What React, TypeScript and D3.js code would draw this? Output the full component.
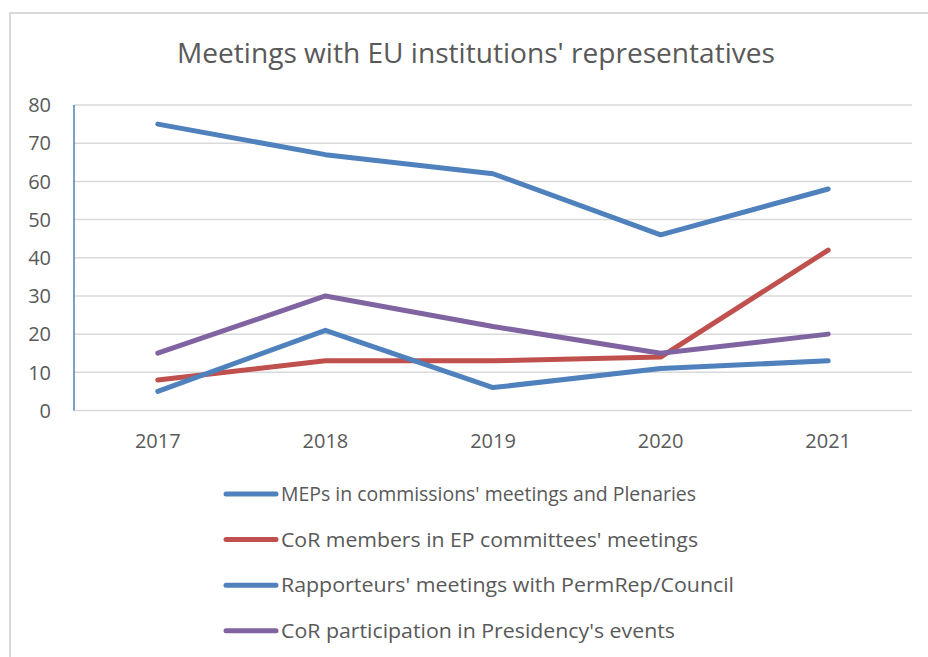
import React from "react";
import * as d3 from "d3";

const years = ["2017", "2018", "2019", "2020", "2021"];
const mepsValues = [75, 67, 62, 46, 58];
const corEpValues = [8, 13, 13, 14, 42];
const rapporteursValues = [5, 21, 6, 11, 13];
const presidencyValues = [15, 30, 22, 15, 20];
const seriesNames = [
  "MEPs in commissions' meetings and Plenaries",
  "CoR members in EP committees' meetings",
  "Rapporteurs' meetings with PermRep/Council",
  "CoR participation in Presidency's events",
];
const seriesColors = ["#4F81BD", "#C0504D", "#4F81BD", "#8064A2"];
const yTicks = [0, 10, 20, 30, 40, 50, 60, 70, 80];
const title = "Meetings with EU institutions' representatives";

const W = 928;
const H = 657;
const plotLeft = 74;
const plotRight = 912;
const plotTop = 105;
const plotBottom = 410.5;
const font = "'Open Sans', 'Noto Sans', sans-serif";
const textColor = "#595959";

export default function App() {
  const x = d3.scaleBand<string>().domain(years).range([plotLeft, plotRight]);
  const y = d3.scaleLinear().domain([0, 80]).range([plotBottom, plotTop]);
  const allSeries = [mepsValues, corEpValues, rapporteursValues, presidencyValues];
  const line = d3
    .line<number>()
    .x((_, i) => (x(years[i]) as number) + x.bandwidth() / 2)
    .y((d) => y(d));

  const legendX0 = 226;
  const legendX1 = 276;
  const legendY0 = 494;
  const legendStep = 45.6;
  const legendWidths = [415, 417, 453, 394];

  return (
    <svg
      width={W}
      height={H}
      style={{ position: "absolute", left: 0, top: 0, background: "#fff" }}
    >
      <rect x={0} y={0} width={W} height={H} fill="#fff" />
      <rect
        x={10}
        y={13}
        width={W + 20}
        height={H + 20}
        fill="#fff"
        stroke="#d9d9d9"
        strokeWidth={2}
      />
      <text
        x={476}
        y={63}
        textAnchor="middle"
        fontFamily={font}
        fontSize={28}
        fill={textColor}
        textLength={598}
        lengthAdjust="spacingAndGlyphs"
      >
        {title}
      </text>
      {yTicks.map((t) => (
        <g key={t}>
          <line
            x1={plotLeft}
            x2={plotRight}
            y1={y(t)}
            y2={y(t)}
            stroke="#d9d9d9"
            strokeWidth={1.5}
          />
          <text
            x={51}
            y={y(t)}
            dy="0.36em"
            textAnchor="end"
            fontFamily={font}
            fontSize={20}
            fill={textColor}
          >
            {t}
          </text>
        </g>
      ))}
      <line
        x1={plotLeft}
        x2={plotLeft}
        y1={plotTop}
        y2={plotBottom}
        stroke="#4F81BD"
        strokeWidth={1.5}
      />
      {years.map((yr) => (
        <text
          key={yr}
          x={(x(yr) as number) + x.bandwidth() / 2}
          y={448}
          textAnchor="middle"
          fontFamily={font}
          fontSize={20}
          fill={textColor}
        >
          {yr}
        </text>
      ))}
      {allSeries.map((vals, i) => (
        <path
          key={i}
          d={line(vals) || ""}
          fill="none"
          stroke={seriesColors[i]}
          strokeWidth={5}
          strokeLinecap="round"
          strokeLinejoin="round"
        />
      ))}
      {seriesNames.map((name, i) => {
        const ly = legendY0 + i * legendStep;
        return (
          <g key={name}>
            <line
              x1={legendX0}
              x2={legendX1}
              y1={ly}
              y2={ly}
              stroke={seriesColors[i]}
              strokeWidth={5}
              strokeLinecap="round"
            />
            <text
              x={281}
              y={ly}
              dy="0.36em"
              fontFamily={font}
              fontSize={20}
              fill={textColor}
              textLength={legendWidths[i]}
              lengthAdjust="spacingAndGlyphs"
            >
              {name}
            </text>
          </g>
        );
      })}
    </svg>
  );
}
